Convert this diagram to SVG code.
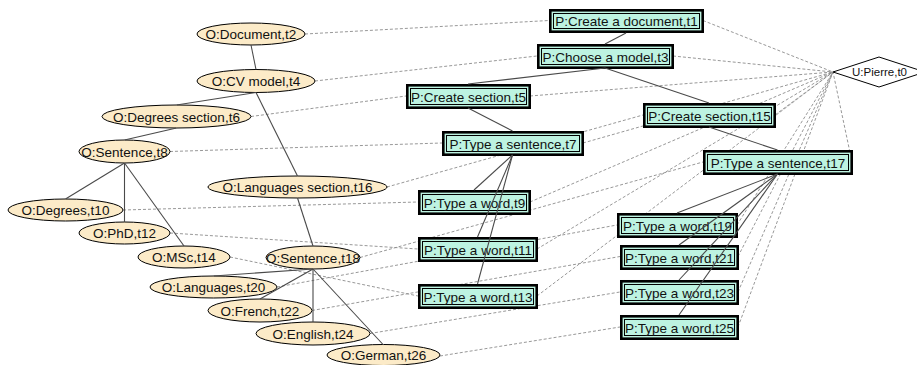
<svg xmlns="http://www.w3.org/2000/svg" width="917" height="365" viewBox="0 0 917 365">
<style>
.dash{stroke:#8c8c8c;stroke-width:0.9;stroke-dasharray:3 2;fill:none}
.solid{stroke:#4a4a4a;stroke-width:1.1;fill:none}
.obj{fill:#fcebc8;stroke:#000;stroke-width:1}
.box{fill:#bdf3e1;stroke:#000;stroke-width:2.6}
.shadow{fill:none;stroke:#9a9a9a;stroke-width:1}
.inner{fill:none;stroke:#000;stroke-width:1}
.user{fill:#fff;stroke:#000;stroke-width:1}
text{font-family:"Liberation Sans",Arial,sans-serif;font-size:13.5px;fill:#111;text-anchor:middle}
.small{font-size:11.5px}
</style>
<g id="connectors-dashed">
<line class="dash" x1="305" y1="34" x2="549" y2="20.5"/>
<line class="dash" x1="315" y1="81" x2="537" y2="56"/>
<line class="dash" x1="251" y1="116.5" x2="406" y2="96"/>
<line class="dash" x1="170" y1="151.5" x2="442" y2="143"/>
<line class="dash" x1="387" y1="187" x2="643" y2="115"/>
<line class="dash" x1="123" y1="210" x2="418" y2="202"/>
<line class="dash" x1="170" y1="233" x2="418" y2="249"/>
<line class="dash" x1="230" y1="257" x2="418" y2="296"/>
<line class="dash" x1="360" y1="257.5" x2="703" y2="162"/>
<line class="dash" x1="277" y1="287" x2="617" y2="225"/>
<line class="dash" x1="312" y1="310.5" x2="620" y2="256.5"/>
<line class="dash" x1="370" y1="333.5" x2="620" y2="292"/>
<line class="dash" x1="440" y1="356" x2="620" y2="327"/>
<line class="dash" x1="703" y1="20.5" x2="833" y2="72"/>
<line class="dash" x1="673" y1="56" x2="833" y2="72"/>
<line class="dash" x1="530" y1="96" x2="833" y2="72"/>
<line class="dash" x1="583" y1="143" x2="833" y2="72"/>
<line class="dash" x1="775" y1="115" x2="833" y2="72"/>
<line class="dash" x1="852" y1="162" x2="833" y2="72"/>
<line class="dash" x1="530" y1="202" x2="833" y2="72"/>
<line class="dash" x1="537" y1="249" x2="833" y2="72"/>
<line class="dash" x1="537" y1="296" x2="833" y2="72"/>
<line class="dash" x1="737" y1="225" x2="833" y2="72"/>
<line class="dash" x1="738" y1="256.5" x2="833" y2="72"/>
<line class="dash" x1="738" y1="292" x2="833" y2="72"/>
<line class="dash" x1="738" y1="327" x2="833" y2="72"/>
</g>
<g id="n-t0"><polygon class="user" points="833,72 879,57 925,72 879,87"/><text class="small" x="879.5" y="76">U:Pierre,t0</text></g>
<g id="n-t2"><ellipse class="obj" cx="251" cy="34" rx="54" ry="11"/><text x="251" y="39">O:Document,t2</text></g>
<g id="n-t4"><ellipse class="obj" cx="256" cy="81" rx="59" ry="11.5"/><text x="256" y="86">O:CV model,t4</text></g>
<g id="n-t6"><ellipse class="obj" cx="176.5" cy="116.5" rx="74.5" ry="11.5"/><text x="176.5" y="121.5">O:Degrees section,t6</text></g>
<g id="n-t8"><ellipse class="obj" cx="124.5" cy="151.5" rx="45.5" ry="11.5"/><text x="124.5" y="156.5">O:Sentence,t8</text></g>
<g id="n-t16"><ellipse class="obj" cx="297.5" cy="187" rx="89.5" ry="11"/><text x="297.5" y="192">O:Languages section,t16</text></g>
<g id="n-t10"><ellipse class="obj" cx="65.5" cy="210" rx="57.5" ry="11"/><text x="65.5" y="215">O:Degrees,t10</text></g>
<g id="n-t12"><ellipse class="obj" cx="124.5" cy="233" rx="45.5" ry="11"/><text x="124.5" y="238">O:PhD,t12</text></g>
<g id="n-t14"><ellipse class="obj" cx="184" cy="257" rx="46" ry="11"/><text x="184" y="262">O:MSc,t14</text></g>
<g id="n-t18"><ellipse class="obj" cx="313" cy="257.5" rx="47" ry="11.5"/><text x="313" y="262.5">O:Sentence,t18</text></g>
<g id="n-t20"><ellipse class="obj" cx="213.5" cy="287" rx="63.5" ry="11"/><text x="213.5" y="292">O:Languages,t20</text></g>
<g id="n-t22"><ellipse class="obj" cx="260" cy="310.5" rx="52" ry="11.5"/><text x="260" y="315.5">O:French,t22</text></g>
<g id="n-t24"><ellipse class="obj" cx="313" cy="333.5" rx="57" ry="11.5"/><text x="313" y="338.5">O:English,t24</text></g>
<g id="n-t26"><ellipse class="obj" cx="383.5" cy="355" rx="56.5" ry="10.5"/><text x="383.5" y="360">O:German,t26</text></g>
<g id="n-t1"><rect class="shadow" x="549.5" y="9.5" width="154" height="23"/><rect class="box" x="550.3" y="10.3" width="152.4" height="21.4"/><rect class="inner" x="553.5" y="13.5" width="146" height="15"/><text x="626.5" y="26">P:Create a document,t1</text></g>
<g id="n-t3"><rect class="shadow" x="537.5" y="44.5" width="136" height="24"/><rect class="box" x="538.3" y="45.3" width="134.4" height="22.4"/><rect class="inner" x="541.5" y="48.5" width="128" height="16"/><text x="605.5" y="61.5">P:Choose a model,t3</text></g>
<g id="n-t5"><rect class="shadow" x="406.5" y="84.5" width="124" height="24"/><rect class="box" x="407.3" y="85.3" width="122.4" height="22.4"/><rect class="inner" x="410.5" y="88.5" width="116" height="16"/><text x="468.5" y="101.5">P:Create section,t5</text></g>
<g id="n-t7"><rect class="shadow" x="442.5" y="131.5" width="141" height="24"/><rect class="box" x="443.3" y="132.3" width="139.4" height="22.4"/><rect class="inner" x="446.5" y="135.5" width="133" height="16"/><text x="513" y="148.5">P:Type a sentence,t7</text></g>
<g id="n-t15"><rect class="shadow" x="643.5" y="103.5" width="132" height="24"/><rect class="box" x="644.3" y="104.3" width="130.4" height="22.4"/><rect class="inner" x="647.5" y="107.5" width="124" height="16"/><text x="709.5" y="120.5">P:Create section,t15</text></g>
<g id="n-t17"><rect class="shadow" x="703.5" y="150.5" width="149" height="24"/><rect class="box" x="704.3" y="151.3" width="147.4" height="22.4"/><rect class="inner" x="707.5" y="154.5" width="141" height="16"/><text x="778" y="167.5">P:Type a sentence,t17</text></g>
<g id="n-t9"><rect class="shadow" x="418.5" y="190.5" width="112" height="24"/><rect class="box" x="419.3" y="191.3" width="110.4" height="22.4"/><rect class="inner" x="422.5" y="194.5" width="104" height="16"/><text x="474.5" y="207.5">P:Type a word,t9</text></g>
<g id="n-t11"><rect class="shadow" x="418.5" y="237.5" width="119" height="24"/><rect class="box" x="419.3" y="238.3" width="117.4" height="22.4"/><rect class="inner" x="422.5" y="241.5" width="111" height="16"/><text x="478" y="254.5">P:Type a word,t11</text></g>
<g id="n-t13"><rect class="shadow" x="418.5" y="284.5" width="119" height="24"/><rect class="box" x="419.3" y="285.3" width="117.4" height="22.4"/><rect class="inner" x="422.5" y="288.5" width="111" height="16"/><text x="478" y="301.5">P:Type a word,t13</text></g>
<g id="n-t19"><rect class="shadow" x="617.5" y="213.5" width="120" height="24"/><rect class="box" x="618.3" y="214.3" width="118.4" height="22.4"/><rect class="inner" x="621.5" y="217.5" width="112" height="16"/><text x="677.5" y="230.5">P:Type a word,t19</text></g>
<g id="n-t21"><rect class="shadow" x="620.5" y="245.5" width="118" height="24"/><rect class="box" x="621.3" y="246.3" width="116.4" height="22.4"/><rect class="inner" x="624.5" y="249.5" width="110" height="16"/><text x="679.5" y="262.5">P:Type a word,t21</text></g>
<g id="n-t23"><rect class="shadow" x="620.5" y="280.5" width="118" height="24"/><rect class="box" x="621.3" y="281.3" width="116.4" height="22.4"/><rect class="inner" x="624.5" y="284.5" width="110" height="16"/><text x="679.5" y="297.5">P:Type a word,t23</text></g>
<g id="n-t25"><rect class="shadow" x="620.5" y="315.5" width="118" height="24"/><rect class="box" x="621.3" y="316.3" width="116.4" height="22.4"/><rect class="inner" x="624.5" y="319.5" width="110" height="16"/><text x="679.5" y="332.5">P:Type a word,t25</text></g>
<g id="connectors-solid">
<line class="solid" x1="251" y1="45" x2="256" y2="69.5"/>
<line class="solid" x1="256" y1="92.5" x2="176.5" y2="105"/>
<line class="solid" x1="256" y1="92.5" x2="297.5" y2="176"/>
<line class="solid" x1="176.5" y1="128" x2="124.5" y2="140"/>
<line class="solid" x1="124.5" y1="163" x2="65.5" y2="199"/>
<line class="solid" x1="124.5" y1="163" x2="124.5" y2="222"/>
<line class="solid" x1="124.5" y1="163" x2="184" y2="246"/>
<line class="solid" x1="297.5" y1="198" x2="313" y2="246"/>
<line class="solid" x1="313" y1="269" x2="213.5" y2="276"/>
<line class="solid" x1="313" y1="269" x2="260" y2="299"/>
<line class="solid" x1="313" y1="269" x2="313" y2="322"/>
<line class="solid" x1="313" y1="269" x2="383.5" y2="345"/>
<line class="solid" x1="626" y1="33" x2="605" y2="44"/>
<line class="solid" x1="605" y1="68" x2="468" y2="84"/>
<line class="solid" x1="605" y1="68" x2="709" y2="103"/>
<line class="solid" x1="468" y1="108" x2="512.5" y2="131"/>
<line class="solid" x1="709" y1="127" x2="777.5" y2="150"/>
<line class="solid" x1="512.5" y1="155" x2="474" y2="190"/>
<line class="solid" x1="512.5" y1="155" x2="477.5" y2="237"/>
<line class="solid" x1="512.5" y1="155" x2="477.5" y2="284"/>
<line class="solid" x1="777.5" y1="174" x2="677" y2="213"/>
<line class="solid" x1="777.5" y1="174" x2="679" y2="245"/>
<line class="solid" x1="777.5" y1="174" x2="679" y2="280"/>
<line class="solid" x1="777.5" y1="174" x2="679" y2="315"/>
</g>
</svg>
